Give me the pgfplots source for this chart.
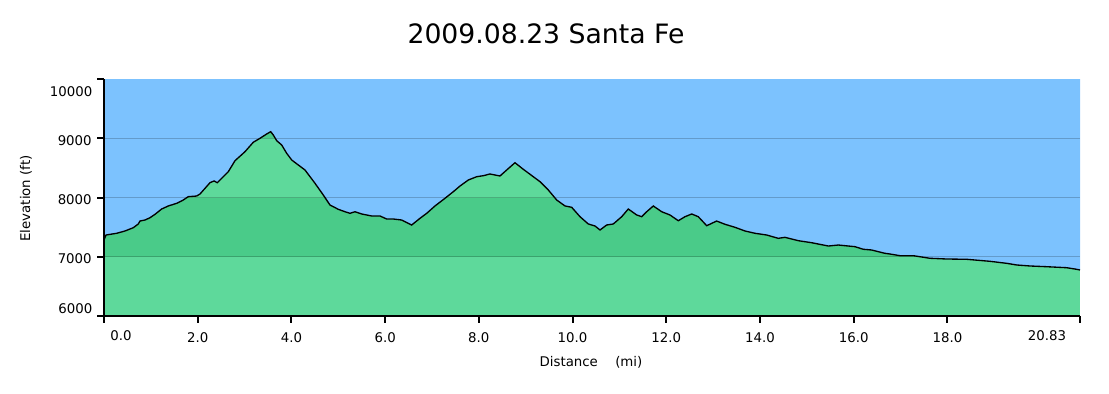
\documentclass[border=0pt]{standalone}
\usepackage{fontspec}
\setmainfont{DejaVu Sans}
\usepackage{pgfplots}
\pgfplotsset{compat=1.18}
\usepackage{pgfplotstable}
\definecolor{sky}{RGB}{124,194,254}
\definecolor{lgreen}{RGB}{94,217,155}
\definecolor{dgreen}{RGB}{74,203,137}
\pgfplotstableread{
mi elev
0.000 7283
0.043 7367
0.271 7396
0.448 7435
0.625 7490
0.732 7553
0.768 7603
0.875 7620
0.982 7659
1.088 7716
1.231 7806
1.372 7857
1.552 7902
1.692 7958
1.799 8014
1.978 8025
2.049 8059
2.156 8155
2.262 8250
2.348 8279
2.418 8250
2.512 8324
2.653 8436
2.796 8621
3.009 8773
3.186 8932
3.329 8999
3.472 9072
3.558 9111
3.613 9055
3.686 8959
3.792 8886
3.899 8746
4.006 8633
4.119 8565
4.290 8464
4.503 8240
4.680 8042
4.823 7873
5.000 7801
5.143 7760
5.250 7733
5.357 7760
5.500 7722
5.713 7688
5.890 7688
6.033 7637
6.174 7637
6.353 7620
6.567 7536
6.744 7649
6.887 7733
7.064 7857
7.278 7987
7.455 8098
7.598 8194
7.775 8295
7.954 8351
8.095 8368
8.238 8397
8.451 8363
8.594 8464
8.771 8587
8.949 8476
9.162 8351
9.305 8267
9.482 8127
9.661 7958
9.839 7857
9.981 7835
10.159 7676
10.336 7553
10.479 7519
10.586 7452
10.728 7536
10.869 7553
11.049 7676
11.189 7806
11.369 7705
11.475 7676
11.582 7760
11.723 7857
11.902 7760
12.079 7705
12.257 7608
12.400 7676
12.543 7722
12.683 7676
12.863 7524
13.074 7603
13.253 7548
13.466 7497
13.680 7435
13.893 7396
14.143 7367
14.391 7311
14.534 7328
14.818 7271
15.103 7237
15.458 7181
15.671 7198
16.028 7170
16.205 7126
16.384 7114
16.668 7058
16.775 7046
16.988 7018
17.272 7018
17.628 6974
17.984 6962
18.411 6957
18.909 6923
19.265 6889
19.478 6861
19.763 6844
20.119 6832
20.546 6815
20.759 6788
20.830 6776
}\profile
\begin{document}
\begin{tikzpicture}
\path[use as bounding box] (0,0) rectangle (831.75pt,294.75pt);
\begin{axis}[
  at={(78pt,57.75pt)}, anchor=south west,
  scale only axis, width=732pt, height=177.75pt,
  xmin=0, xmax=20.83, ymin=6000, ymax=10000,
  axis lines*=left,
  axis line style={-, line width=2pt, black},
  axis on top,
  clip=false,
  scaled x ticks=false,
  scaled y ticks=false,
  xtick={2,4,...,18},
  xticklabel={\pgfmathprintnumber[fixed,fixed zerofill,precision=1]{\tick}},
  extra x ticks={0,20.83},
  extra x tick labels={\empty,\empty},
  extra x tick style={grid=none},
  ytick={7000,8000,9000},
  yticklabel={\pgfmathprintnumber[fixed,precision=0,1000 sep={}]{\tick}},
  extra y ticks={6000,10000},
  extra y tick labels={\empty,\empty},
  extra y tick style={grid=none},
  ymajorgrids,
  major grid style={black, opacity=0.2, line width=1pt},
  tick align=outside,
  major tick length=5pt,
  tick style={black, line width=1.5pt},
  tick label style={font=\fontsize{10}{12}\selectfont},
  /pgf/number format/assume math mode=true,
  xticklabel style={yshift=-4pt},
  yticklabel style={xshift=-0.7pt, yshift=-1.5pt},
]
\addplot[fill=lgreen, draw=none] coordinates {(0,6000) (20.83,6000) (20.83,10000) (0,10000)} -- cycle;
\addplot[fill=dgreen, draw=none] coordinates {(0,7000) (20.83,7000) (20.83,8000) (0,8000)} -- cycle;
\addplot[fill=dgreen, draw=none] coordinates {(0,9000) (20.83,9000) (20.83,10000) (0,10000)} -- cycle;
\addplot[fill=sky, draw=none] table[x=mi, y=elev] {\profile} -- (axis cs:20.83,10000) -- (axis cs:0,10000) -- cycle;
\addplot[black, line width=1pt] table[x=mi, y=elev] {\profile};
\node[font=\fontsize{10}{12}\selectfont, inner sep=0pt, xshift=12.75pt, yshift=-15pt] at (axis cs:0,6000) {0.0};
\node[font=\fontsize{10}{12}\selectfont, inner sep=0pt, xshift=-24.75pt, yshift=-15pt] at (axis cs:20.83,6000) {20.83};
\node[font=\fontsize{10}{12}\selectfont, inner sep=0pt, anchor=east, xshift=-8.5pt, yshift=-9.5pt] at (axis cs:0,10000) {10000};
\node[font=\fontsize{10}{12}\selectfont, inner sep=0pt, anchor=east, xshift=-8.5pt, yshift=5.8pt] at (axis cs:0,6000) {6000};
\end{axis}
\node[anchor=base, font=\fontsize{20}{24}\selectfont] at (409.5pt,261.75pt) {2009.08.23 Santa Fe};
\node[rotate=90, font=\fontsize{10}{12}\selectfont] at (19.5pt,145.9pt) {Elevation (ft)};
\node[font=\fontsize{10}{12}\selectfont] at (443.25pt,23.25pt) {Distance\hspace{1.3em}(mi)};
\end{tikzpicture}
\end{document}
